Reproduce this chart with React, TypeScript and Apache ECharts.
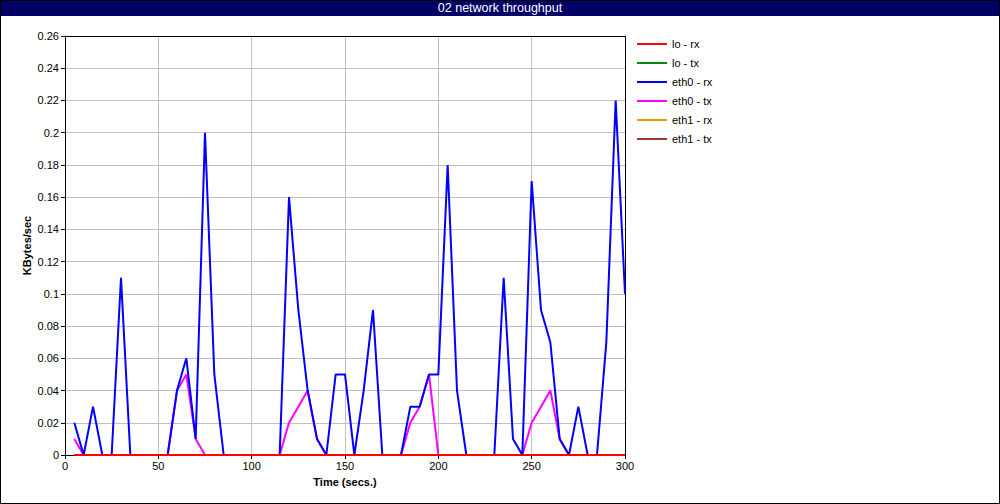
import React, { useEffect, useRef } from "react";
import * as echarts from "echarts";

const times: number[] = [
  5, 10, 15, 20, 25, 30, 35, 40, 45, 50, 55, 60, 65, 70, 75, 80, 85, 90, 95, 100,
  105, 110, 115, 120, 125, 130, 135, 140, 145, 150, 155, 160, 165, 170, 175, 180, 185, 190, 195, 200,
  205, 210, 215, 220, 225, 230, 235, 240, 245, 250, 255, 260, 265, 270, 275, 280, 285, 290, 295, 300,
];

const loRx: number[] = times.map(() => 0);
const loTx: number[] = times.map(() => 0);
const eth1Rx: number[] = times.map(() => 0);
const eth1Tx: number[] = times.map(() => 0);

const eth0Rx: number[] = [
  0.02, 0, 0.03, 0, 0, 0.11, 0, 0, 0, 0, 0, 0.04, 0.06, 0.01, 0.2, 0.05, 0, 0, 0, 0,
  0, 0, 0, 0.16, 0.09, 0.04, 0.01, 0, 0.05, 0.05, 0, 0.04, 0.09, 0, 0, 0, 0.03, 0.03, 0.05, 0.05,
  0.18, 0.04, 0, 0, 0, 0, 0.11, 0.01, 0, 0.17, 0.09, 0.07, 0.01, 0, 0.03, 0, 0, 0.07, 0.22, 0.1,
];

const eth0Tx: number[] = [
  0.01, 0, 0, 0, 0, 0, 0, 0, 0, 0, 0, 0.04, 0.05, 0.01, 0, 0, 0, 0, 0, 0,
  0, 0, 0, 0.02, 0.03, 0.04, 0.01, 0, 0, 0, 0, 0, 0, 0, 0, 0, 0.02, 0.03, 0.05, 0,
  0, 0, 0, 0, 0, 0, 0, 0, 0, 0.02, 0.03, 0.04, 0.01, 0, 0, 0, 0, 0, 0, 0,
];

const seriesNames: string[] = ["lo - rx", "lo - tx", "eth0 - rx", "eth0 - tx", "eth1 - rx", "eth1 - tx"];
const seriesValues: number[][] = [loRx, loTx, eth0Rx, eth0Tx, eth1Rx, eth1Tx];
const seriesColors: string[] = ["#ff0000", "#008c00", "#0000ff", "#ff00ff", "#e89a00", "#a83535"];
const seriesZ: number[] = [10, 3, 8, 7, 4, 5];

const yTicks = { min: 0, max: 0.26, interval: 0.02 };
const xTicks = { min: 0, max: 300, interval: 50 };

const FONT = "'Liberation Sans', Arial, sans-serif";

export default function App() {
  const ref = useRef<HTMLDivElement>(null);

  useEffect(() => {
    if (!ref.current) return;
    const chart = echarts.init(ref.current, null, { renderer: "svg" });

    const series = seriesNames.map((name, i) => ({
      name,
      type: "line",
      data: times.map((t, j) => [t, seriesValues[i][j]]),
      symbol: "none",
      showSymbol: false,
      lineStyle: { color: seriesColors[i], width: 2 },
      itemStyle: { color: seriesColors[i] },
      z: seriesZ[i],
      xAxisIndex: 0,
      yAxisIndex: 0,
    }));

    chart.setOption({
      animation: false,
      backgroundColor: "#ffffff",
      textStyle: { fontFamily: FONT },
      grid: { left: 65, right: 375, top: 36, bottom: 49, containLabel: false },
      legend: {
        orient: "vertical",
        left: 637,
        top: 37,
        padding: 0,
        icon: "rect",
        itemWidth: 30,
        itemHeight: 2,
        itemGap: 5,
        data: seriesNames,
        textStyle: { fontFamily: FONT, fontSize: 11, color: "#000", lineHeight: 14 },
        selectedMode: false,
      },
      xAxis: [
        {
          type: "value",
          min: xTicks.min,
          max: xTicks.max,
          interval: xTicks.interval,
          name: "Time (secs.)",
          nameLocation: "middle",
          nameGap: 21,
          nameMoveOverlap: false,
          nameTextStyle: { fontFamily: FONT, fontSize: 11, fontWeight: "bold", color: "#000" },
          axisLine: { show: true, onZero: false, lineStyle: { color: "#000", width: 1 } },
          axisTick: { show: true, length: 4, lineStyle: { color: "#000" } },
          axisLabel: { fontFamily: FONT, fontSize: 11, color: "#000", margin: 5 },
          splitLine: { show: true, lineStyle: { color: "#c0c0c0", width: 1 } },
        },
        {
          type: "value",
          position: "top",
          min: xTicks.min,
          max: xTicks.max,
          axisLine: { show: true, onZero: false, lineStyle: { color: "#000", width: 1 } },
          axisTick: { show: false },
          axisLabel: { show: false },
          splitLine: { show: false },
        },
      ],
      yAxis: [
        {
          type: "value",
          min: yTicks.min,
          max: yTicks.max,
          interval: yTicks.interval,
          name: "KBytes/sec",
          nameLocation: "middle",
          nameRotate: 90,
          nameGap: 33,
          nameMoveOverlap: false,
          nameTextStyle: { fontFamily: FONT, fontSize: 11, fontWeight: "bold", color: "#000" },
          axisLine: { show: true, onZero: false, lineStyle: { color: "#000", width: 1 } },
          axisTick: { show: true, length: 4, lineStyle: { color: "#000" } },
          axisLabel: { fontFamily: FONT, fontSize: 11, color: "#000", margin: 6 },
          splitLine: { show: true, lineStyle: { color: "#c0c0c0", width: 1 } },
        },
        {
          type: "value",
          position: "right",
          min: yTicks.min,
          max: yTicks.max,
          axisLine: { show: true, onZero: false, lineStyle: { color: "#000", width: 1 } },
          axisTick: { show: false },
          axisLabel: { show: false },
          splitLine: { show: false },
        },
      ],
      graphic: [
        {
          type: "rect",
          z: 100,
          shape: { x: 0, y: 0, width: 1000, height: 16 },
          style: { fill: "#000066" },
        },
        {
          type: "text",
          z: 101,
          x: 500,
          y: 8,
          style: {
            text: "02 network throughput",
            fill: "#ffffff",
            font: "12.5px 'Liberation Sans Narrow', 'Liberation Sans', Arial, sans-serif",
            align: "center",
            verticalAlign: "middle",
          },
        },
        {
          type: "rect",
          z: 102,
          shape: { x: 0.5, y: 0.5, width: 999, height: 503 },
          style: { fill: "none", stroke: "#000", lineWidth: 1 },
        },
      ],
      series,
    });

    return () => chart.dispose();
  }, []);

  return (
    <div
      ref={ref}
      style={{ position: "fixed", left: 0, top: 0, width: 1000, height: 504, background: "#fff" }}
    />
  );
}
